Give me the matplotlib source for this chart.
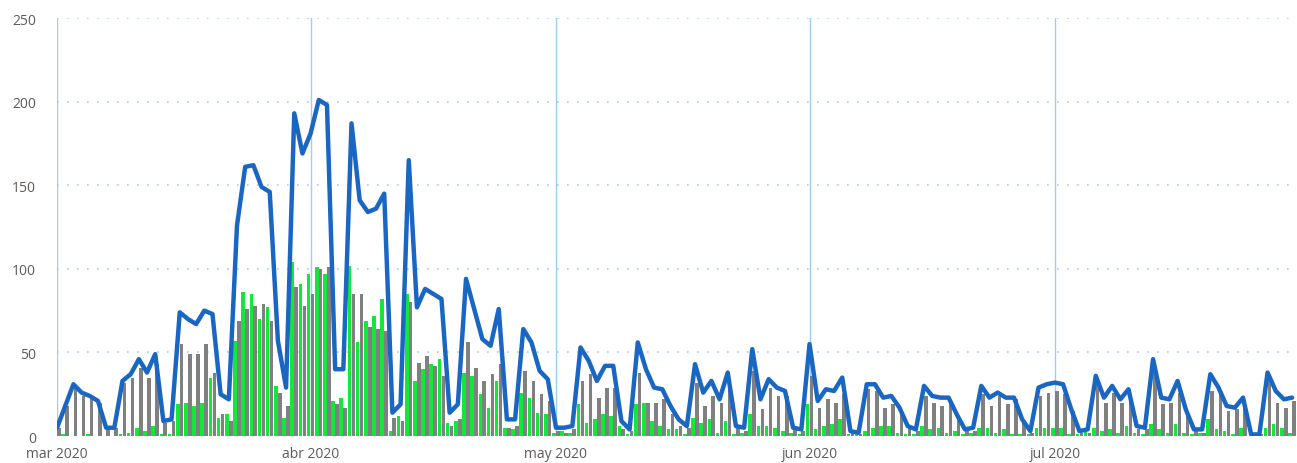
import numpy as np
import pandas as pd
import matplotlib
matplotlib.use("Agg")
import matplotlib.pyplot as plt
import matplotlib.dates as mdates

# daily values, 1 Mar 2020 .. 30 Jul 2020
days = pd.date_range("2020-03-01", "2020-07-30", freq="D")

total = [5, 18, 31, 26, 24, 21, 5, 5, 33, 37, 46, 38, 49, 9, 10,
         74, 70, 67, 75, 73, 25, 22, 126, 161, 162, 149, 146, 57, 29, 193, 169,
         181, 201, 198, 40, 40, 187, 141, 134, 136, 145, 14, 19, 165, 77, 88, 85, 82, 14, 19,
         94, 76, 58, 54, 76, 10, 10, 64, 56, 39, 34,
         5, 5, 6, 53, 45, 33, 42, 42, 9, 4, 56, 40, 29, 28, 18, 10, 6, 43, 26, 33, 22, 38,
         6, 5, 52, 22, 34, 29, 27, 5, 4,
         55, 21, 28, 27, 35, 3, 2, 31, 31, 23, 24, 17, 6, 4, 30, 24, 23, 23, 13, 4, 5,
         30, 23, 26, 23, 23, 10, 3, 29, 31,
         32, 31, 16, 3, 4, 36, 23, 30, 22, 28, 6, 5, 46, 23, 22, 33, 16, 4, 4, 37, 29,
         18, 17, 23, 1, 1, 38, 27, 22, 23]

green = [0, 1, 0, 0, 1, 0, 0, 0, 1, 2, 5, 3, 6, 1, 1,
         19, 20, 18, 20, 35, 11, 13, 57, 86, 85, 70, 77, 30, 11, 104, 91,
         97, 101, 97, 21, 23, 102, 56, 69, 72, 82, 3, 12, 85, 33, 40, 43, 46, 8, 9,
         38, 36, 25, 17, 33, 5, 4, 26, 23, 14, 13,
         2, 3, 2, 19, 8, 10, 13, 12, 6, 1, 19, 20, 9, 6, 4, 4, 1, 11, 8, 10, 2, 9,
         1, 2, 13, 6, 6, 5, 3, 2, 1,
         19, 4, 6, 7, 10, 1, 1, 3, 5, 6, 6, 2, 1, 1, 6, 4, 5, 2, 3, 1, 2,
         5, 5, 2, 4, 1, 1, 1, 5, 5,
         5, 5, 1, 1, 3, 5, 3, 4, 2, 6, 2, 1, 7, 4, 2, 7, 2, 1, 2, 10, 4,
         3, 1, 5, 0, 1, 5, 7, 5, 2]

grey = [5, 18, 29, 24, 22, 20, 5, 5, 32, 35, 41, 35, 43, 8, 9,
        55, 49, 49, 55, 38, 13, 9, 69, 76, 78, 79, 69, 26, 18, 89, 78,
        85, 100, 101, 19, 17, 85, 85, 65, 64, 63, 11, 9, 80, 44, 48, 42, 36, 6, 10,
        56, 41, 33, 37, 43, 5, 6, 39, 33, 25, 21,
        3, 2, 4, 33, 37, 23, 29, 29, 4, 3, 38, 20, 20, 22, 13, 6, 5, 32, 18, 24, 20, 29,
        5, 3, 39, 16, 29, 24, 24, 4, 3,
        36, 17, 22, 20, 25, 2, 1, 28, 27, 17, 19, 15, 5, 3, 24, 20, 18, 21, 10, 3, 3,
        25, 18, 24, 19, 22, 9, 2, 24, 26,
        27, 25, 15, 2, 2, 31, 20, 26, 20, 22, 4, 4, 39, 19, 20, 26, 14, 3, 2, 27, 25,
        15, 16, 18, 1, 1, 33, 20, 17, 21]

month_labels = ["mar 2020", "abr 2020", "may 2020", "jun 2020", "jul 2020"]
month_starts = pd.to_datetime(["2020-03-01", "2020-04-01", "2020-05-01",
                               "2020-06-01", "2020-07-01"])
yticks = [0, 50, 100, 150, 200, 250]

x = mdates.date2num(days)

fig = plt.figure(figsize=(12.97, 4.64), dpi=100)
ax = fig.add_axes([0.044, 0.058, 0.956, 0.901])

# green bar left of the day, grey bar right of it
ax.bar(x - 0.47, green, width=0.44, align="edge", color="#12e83a", zorder=2)
ax.bar(x + 0.01, grey, width=0.44, align="edge", color="#808080", zorder=2)
ax.plot(x, total, color="#1967c2", linewidth=3.2, solid_joinstyle="round",
        solid_capstyle="round", zorder=3)

ax.set_ylim(0, 250)
ax.set_xlim(x[0], x[-1] + 0.6)

for m in mdates.date2num(month_starts):
    ax.axvline(m, color="#9fcdf7", linewidth=1, zorder=1)
for v in yticks[1:]:
    ax.axhline(v, color="#9fcdf7", linewidth=1.2, linestyle=(0, (1, 5)), zorder=1)

for s in ax.spines.values():
    s.set_visible(False)

ax.set_yticks(yticks)
ax.set_yticklabels([str(v) for v in yticks])
ax.set_xticks(mdates.date2num(month_starts))
ax.set_xticklabels(month_labels)
ax.tick_params(axis="both", length=0, labelsize=10, labelcolor="#5e5a58")
ax.tick_params(axis="y", pad=15)
ax.tick_params(axis="x", pad=7)
for lab in ax.get_xticklabels() + ax.get_yticklabels():
    lab.set_family(["Open Sans", "DejaVu Sans"])

fig.savefig("out.png", dpi=100)
